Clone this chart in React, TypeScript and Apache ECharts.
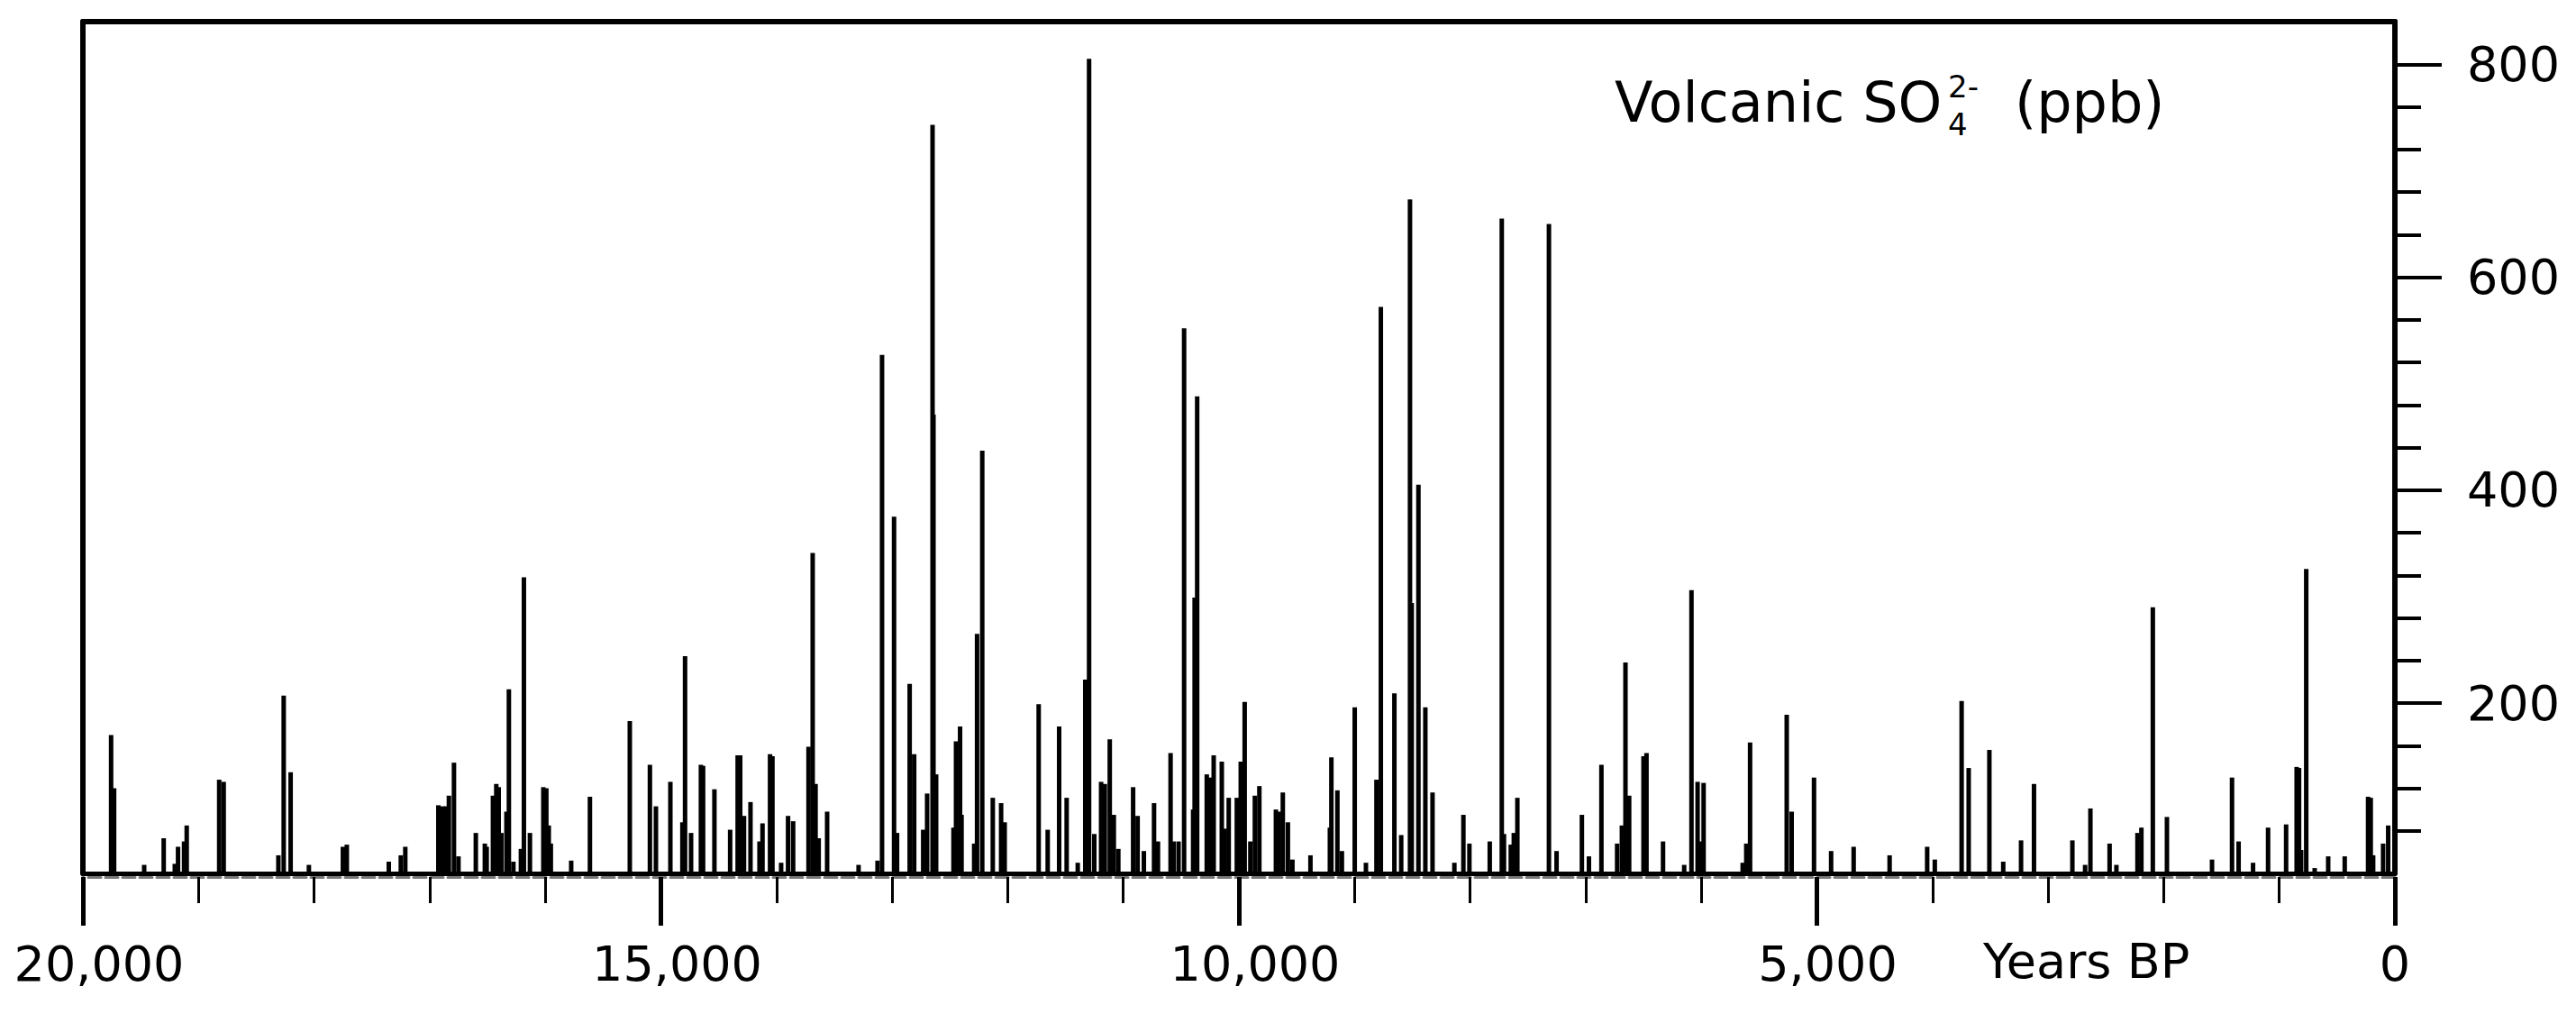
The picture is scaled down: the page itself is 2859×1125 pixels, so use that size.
import React, { useEffect, useRef } from "react";
import * as echarts from "echarts";

// Years BP of each volcanic signal
const years = [
  19756, 19730, 19470, 19301, 19205, 19177, 19125, 19102, 18821, 18782,
  18309, 18263, 18203, 18045, 17751, 17717, 17354, 17250, 17211, 16925,
  16886, 16856, 16834, 16790, 16751, 16601, 16523, 16507, 16453, 16424,
  16403, 16380, 16336, 16315, 16276, 16211, 16185, 16133, 16017, 15991,
  15970, 15952, 15776, 15614, 15269, 15095, 15043, 14918, 14814, 14791,
  14739, 14654, 14635, 14537, 14401, 14336, 14314, 14281, 14225, 14147,
  14121, 14056, 14035, 13960, 13900, 13856, 13723, 13687, 13662, 13635,
  13562, 13290, 13126, 13087, 12983, 12957, 12848, 12809, 12731, 12697,
  12650, 12642, 12619, 12469, 12447, 12412, 12399, 12290, 12265, 12220,
  12129, 12057, 12026, 11732, 11654, 11555, 11490, 11394, 11329, 11296,
  11251, 11192, 11160, 11117, 11082, 11043, 10915, 10876, 10822, 10734,
  10700, 10591, 10565, 10522, 10474, 10396, 10383, 10361, 10278, 10252,
  10218, 10148, 10122, 10088, 10018, 9984, 9950, 9901, 9862, 9823,
  9680, 9654, 9620, 9576, 9537, 9381, 9213, 9200, 9148, 9109,
  8998, 8901, 8810, 8772, 8655, 8596, 8520, 8505, 8447, 8387,
  8325, 8136, 8058, 8006, 7830, 7726, 7707, 7648, 7622, 7591,
  7318, 7252, 7033, 6972, 6864, 6728, 6687, 6656, 6624, 6500,
  6474, 6331, 6148, 6085, 6032, 6006, 5980, 5642, 5611, 5578,
  5261, 5218, 5025, 4877, 4682, 4371, 4046, 3980, 3748, 3687,
  3508, 3388, 3234, 3122, 2790, 2680, 2634, 2468, 2409, 2227,
  2193, 2094, 1972, 1582, 1409, 1352, 1227, 1097, 941, 850,
  829, 811, 767, 694, 577, 434, 232, 209, 188, 102,
  58,
];

// Volcanic SO4 2- (ppb)
const values = [
  170, 120, 48, 73, 49, 65, 70, 85, 128, 126,
  57, 207, 135, 48, 65, 67, 51, 57, 65, 104,
  103, 103, 113, 144, 56, 78, 68, 65, 113, 124,
  121, 78, 98, 213, 51, 63, 318, 78, 121, 120,
  85, 68, 52, 112, 183, 142, 103, 126, 88, 244,
  78, 142, 141, 119, 81, 151, 151, 94, 107, 70,
  87, 152, 150, 50, 94, 89, 159, 341, 124, 73,
  98, 48, 52, 527, 375, 78, 218, 152, 81, 115,
  743, 471, 133, 83, 164, 178, 95, 68, 265, 437,
  111, 106, 88, 199, 81, 178, 111, 50, 222, 805,
  77, 126, 124, 166, 95, 63, 121, 94, 61, 106,
  70, 153, 70, 70, 552, 100, 299, 488, 133, 130,
  151, 145, 82, 111, 111, 145, 201, 70, 113, 122,
  100, 98, 116, 88, 53, 57, 83, 149, 118, 61,
  196, 50, 128, 572, 209, 76, 673, 294, 405, 196,
  116, 50, 95, 68, 70, 655, 77, 67, 78, 111,
  650, 61, 95, 56, 142, 68, 85, 238, 113, 150,
  153, 70, 48, 306, 126, 70, 125, 50, 68, 163,
  189, 98, 130, 61, 65, 57, 65, 53, 202, 139,
  156, 51, 71, 124, 71, 48, 101, 68, 48, 78,
  83, 290, 93, 53, 130, 70, 50, 83, 86, 140,
  139, 62, 326, 45, 56, 56, 112, 111, 57, 68,
  85,
];

const yMajorTicks = [200, 400, 600, 800];
const yMinorTicks = [80, 120, 160, 240, 280, 320, 360, 440, 480, 520, 560, 640, 680, 720, 760];

const FONT = "DejaVu Sans";

export default function App() {
  const ref = useRef<HTMLDivElement>(null);

  useEffect(() => {
    if (!ref.current) return;
    const chart = echarts.init(ref.current, null, { renderer: "svg" });
    const data = years.map((y, i) => [y, values[i]]);

    const hidden = {
      axisTick: { show: false },
      axisLabel: { show: false },
      splitLine: { show: false },
    };

    const labelFormatter = (v: number) => {
      if (v === 0) return "{z|0}";
      if (v === 5000) return "{b|5,000}";
      return "{a|" + v.toLocaleString("en-US") + "}";
    };
    const txt = { fontSize: 54, fontFamily: FONT, color: "#000" };

    chart.setOption({
      animation: false,
      backgroundColor: "#fff",
      grid: { left: 92, right: 201, top: 24, bottom: 156, containLabel: false },
      xAxis: [
        {
          type: "value", min: 0, max: 20000, inverse: true, position: "bottom",
          axisLine: { show: true, onZero: false, lineStyle: { color: "#000", width: 5 } },
          ...hidden, z: 5,
        },
        {
          type: "value", min: 0, max: 20000, interval: 1000, inverse: true, position: "bottom", offset: 4,
          axisLine: { show: true, onZero: false, lineStyle: { color: "#777", width: 3, type: [14, 5] } },
          axisTick: { show: true, length: 29, lineStyle: { color: "#000", width: 3 } },
          axisLabel: { show: false }, splitLine: { show: false },
        },
        {
          type: "value", min: 0, max: 20000, interval: 5000, inverse: true, position: "bottom", offset: 4,
          axisLine: { show: false, onZero: false },
          axisTick: { show: true, length: 54, lineStyle: { color: "#000", width: 5 } },
          axisLabel: {
            show: true, margin: 69, ...txt, formatter: labelFormatter,
            rich: {
              a: { ...txt, padding: [0, 0, 0, 36] },
              b: { ...txt, padding: [0, 0, 0, 24] },
              z: { ...txt },
            },
          },
          splitLine: { show: false },
        },
        {
          type: "value", min: 0, max: 20000, inverse: true, position: "top",
          axisLine: { show: true, onZero: false, lineStyle: { color: "#000", width: 6 } },
          ...hidden,
        },
      ],
      yAxis: [
        {
          type: "value", min: 40, max: 840, position: "right",
          axisLine: { show: true, onZero: false, lineStyle: { color: "#000", width: 6 } },
          axisTick: { show: true, length: 29, customValues: yMinorTicks, lineStyle: { color: "#000", width: 4 } },
          axisLabel: { show: false }, splitLine: { show: false },
        },
        {
          type: "value", min: 40, max: 840, position: "right",
          axisLine: { show: false, onZero: false },
          axisTick: { show: true, length: 52, customValues: yMajorTicks, lineStyle: { color: "#000", width: 4 } },
          axisLabel: { show: true, margin: 80, customValues: yMajorTicks, ...txt },
          splitLine: { show: false },
        },
        {
          type: "value", min: 40, max: 840, position: "left",
          axisLine: { show: true, onZero: false, lineStyle: { color: "#000", width: 6 } },
          ...hidden,
        },
      ],
      graphic: [
        { type: "text", x: 1792, y: 113, style: { text: "Volcanic SO", fontSize: 62, fontFamily: FONT, fill: "#000", verticalAlign: "middle", align: "left" } },
        { type: "text", x: 2162, y: 96, style: { text: "2-", fontSize: 34, fontFamily: FONT, fill: "#000", verticalAlign: "middle", align: "left" } },
        { type: "text", x: 2162, y: 138, style: { text: "4", fontSize: 34, fontFamily: FONT, fill: "#000", verticalAlign: "middle", align: "left" } },
        { type: "text", x: 2236, y: 113, style: { text: "(ppb)", fontSize: 62, fontFamily: FONT, fill: "#000", verticalAlign: "middle", align: "left" } },
        { type: "text", x: 2201, y: 1066, style: { text: "Years BP", fontSize: 54, fontFamily: FONT, fill: "#000", verticalAlign: "middle", align: "left" } },
      ],
      series: [
        {
          type: "bar", xAxisIndex: 0, yAxisIndex: 0, data, barWidth: 5, clip: true,
          itemStyle: { color: "#000" },
        },
      ],
    });

    return () => chart.dispose();
  }, []);

  return (
    <div
      ref={ref}
      style={{ position: "fixed", left: 0, top: 0, width: 2859, height: 1125, background: "#fff" }}
    />
  );
}
